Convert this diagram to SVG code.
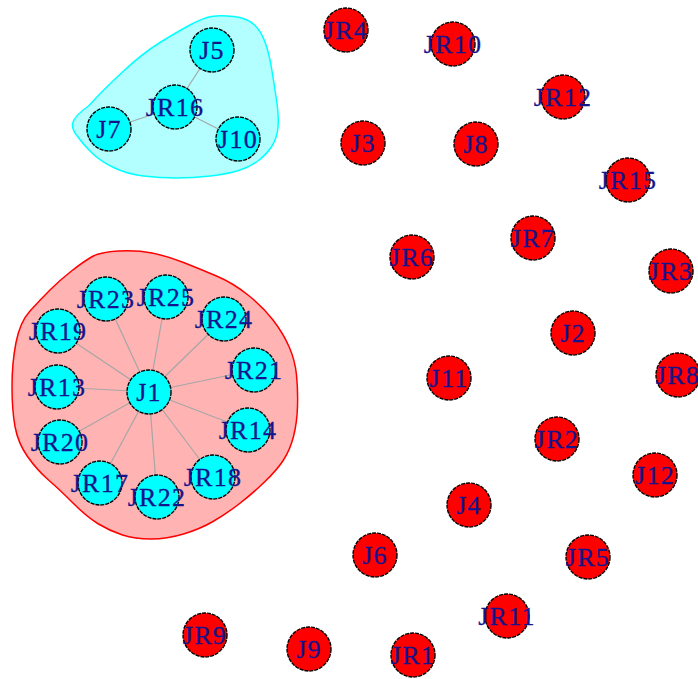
<svg xmlns="http://www.w3.org/2000/svg" width="698" height="679" viewBox="0 0 698 679">
<style>
.n circle{stroke:#000;stroke-width:1.4;stroke-dasharray:4 1}
.red circle{fill:#ff0000}
.cy circle{fill:#00ffff}
.n text{font-family:"Liberation Serif","Times New Roman",serif;font-size:26px;fill:#14148c;stroke:#14148c;stroke-width:0.3;text-anchor:middle;letter-spacing:1.3px}
#edges line{stroke:#a6a6a6;stroke-width:1.2}
</style>
<rect width="698" height="679" fill="#fff"/>
<g id="hulls">
<path id="hull-cyan" fill="#b3ffff" stroke="#00ffff" stroke-width="1.5" d="M 88.5,106 Q 103,90 123,71.5 Q 143,53 160,42.5 Q 177,32 190,25 Q 203,18 211.5,16.5 Q 220,15 233.5,16.5 Q 247,18 254,24.5 Q 261,31 265,42 Q 269,53 271.5,68 Q 274,83 276.5,100 Q 279,117 278,127.5 Q 277,138 272,146 Q 267,154 258.5,160.5 Q 250,167 238.5,170.5 Q 227,174 210,176 Q 193,178 176.5,178 Q 160,178 143.5,176 Q 127,174 113.5,167.5 Q 100,161 91.5,152.5 Q 83,144 78,137 Q 72,130 72.5,124 Q 74,116 88.5,106 Z"/>
<path id="hull-red" fill="#ffb3b3" stroke="#ff0000" stroke-width="1.5" d="M 91.5,257 Q 100,252 118.5,251 Q 137,250 152,253 Q 167,256 183.5,262.5 Q 200,269 216.5,276 Q 233,283 248,295 Q 263,307 273,320 Q 283,333 289,346.5 Q 295,360 296.5,375 Q 298,390 297.5,406.5 Q 297,423 293.5,436.5 Q 290,450 283.5,460 Q 277,470 264.5,482 Q 252,494 239,504 Q 226,514 213,521.5 Q 200,529 183.5,534 Q 167,539 151,539 Q 135,539 122.5,535 Q 110,531 98.5,524 Q 87,517 73.5,503.5 Q 60,490 48.5,480 Q 37,470 27.5,456.5 Q 18,443 15,426.5 Q 12,410 12,386.5 Q 12,363 16,342.5 Q 20,322 30,311 Q 40,300 50,290 Q 60,280 71.5,271 Q 83,262 91.5,257 Z"/>
</g>
<g id="edges">
<line x1="175" y1="107" x2="212" y2="50"/>
<line x1="175" y1="107" x2="109" y2="129"/>
<line x1="175" y1="107" x2="238" y2="139"/>
<line x1="149" y1="392" x2="106" y2="299"/>
<line x1="149" y1="392" x2="166" y2="297"/>
<line x1="149" y1="392" x2="224" y2="319"/>
<line x1="149" y1="392" x2="58" y2="331"/>
<line x1="149" y1="392" x2="254" y2="370"/>
<line x1="149" y1="392" x2="57" y2="387"/>
<line x1="149" y1="392" x2="248" y2="430"/>
<line x1="149" y1="392" x2="60" y2="442"/>
<line x1="149" y1="392" x2="213" y2="477"/>
<line x1="149" y1="392" x2="100" y2="483"/>
<line x1="149" y1="392" x2="157" y2="497"/>
</g>
<g id="nodes">
<g id="J5" class="n cy"><circle cx="212" cy="50" r="22"/><text x="212" y="59">J5</text></g>
<g id="J7" class="n cy"><circle cx="109" cy="129" r="22"/><text x="109" y="138">J7</text></g>
<g id="J10" class="n cy"><circle cx="238" cy="139" r="22"/><text x="238" y="148">J10</text></g>
<g id="JR16" class="n cy"><circle cx="175" cy="107" r="22"/><text x="175" y="116">JR16</text></g>
<g id="J1" class="n cy"><circle cx="149" cy="392" r="22"/><text x="149" y="401">J1</text></g>
<g id="JR23" class="n cy"><circle cx="106" cy="299" r="22"/><text x="106" y="308">JR23</text></g>
<g id="JR25" class="n cy"><circle cx="166" cy="297" r="22"/><text x="166" y="306">JR25</text></g>
<g id="JR24" class="n cy"><circle cx="224" cy="319" r="22"/><text x="224" y="328">JR24</text></g>
<g id="JR19" class="n cy"><circle cx="58" cy="331" r="22"/><text x="58" y="340">JR19</text></g>
<g id="JR21" class="n cy"><circle cx="254" cy="370" r="22"/><text x="254" y="379">JR21</text></g>
<g id="JR13" class="n cy"><circle cx="57" cy="387" r="22"/><text x="57" y="396">JR13</text></g>
<g id="JR14" class="n cy"><circle cx="248" cy="430" r="22"/><text x="248" y="439">JR14</text></g>
<g id="JR20" class="n cy"><circle cx="60" cy="442" r="22"/><text x="60" y="451">JR20</text></g>
<g id="JR18" class="n cy"><circle cx="213" cy="477" r="22"/><text x="213" y="486">JR18</text></g>
<g id="JR17" class="n cy"><circle cx="100" cy="483" r="22"/><text x="100" y="492">JR17</text></g>
<g id="JR22" class="n cy"><circle cx="157" cy="497" r="22"/><text x="157" y="506">JR22</text></g>
<g id="JR4" class="n red"><circle cx="346" cy="30" r="22"/><text x="346" y="39">JR4</text></g>
<g id="JR10" class="n red"><circle cx="453" cy="44" r="22"/><text x="453" y="53">JR10</text></g>
<g id="JR12" class="n red"><circle cx="563" cy="97" r="22"/><text x="563" y="106">JR12</text></g>
<g id="J3" class="n red"><circle cx="363" cy="143" r="22"/><text x="363" y="152">J3</text></g>
<g id="J8" class="n red"><circle cx="476" cy="144" r="22"/><text x="476" y="153">J8</text></g>
<g id="JR15" class="n red"><circle cx="628" cy="180" r="22"/><text x="628" y="189">JR15</text></g>
<g id="JR6" class="n red"><circle cx="412" cy="257" r="22"/><text x="412" y="266">JR6</text></g>
<g id="JR7" class="n red"><circle cx="533" cy="238" r="22"/><text x="533" y="247">JR7</text></g>
<g id="JR3" class="n red"><circle cx="671" cy="271" r="22"/><text x="671" y="280">JR3</text></g>
<g id="J2" class="n red"><circle cx="573" cy="333" r="22"/><text x="573" y="342">J2</text></g>
<g id="J11" class="n red"><circle cx="449" cy="378" r="22"/><text x="449" y="387">J11</text></g>
<g id="JR8" class="n red"><circle cx="678" cy="375" r="22"/><text x="678" y="384">JR8</text></g>
<g id="JR2" class="n red"><circle cx="557" cy="439" r="22"/><text x="557" y="448">JR2</text></g>
<g id="J12" class="n red"><circle cx="655" cy="475" r="22"/><text x="655" y="484">J12</text></g>
<g id="J4" class="n red"><circle cx="469" cy="505" r="22"/><text x="469" y="514">J4</text></g>
<g id="JR5" class="n red"><circle cx="588" cy="557" r="22"/><text x="588" y="566">JR5</text></g>
<g id="J6" class="n red"><circle cx="375" cy="555" r="22"/><text x="375" y="564">J6</text></g>
<g id="JR11" class="n red"><circle cx="507" cy="616" r="22"/><text x="507" y="625">JR11</text></g>
<g id="JR9" class="n red"><circle cx="205" cy="635" r="22"/><text x="205" y="644">JR9</text></g>
<g id="J9" class="n red"><circle cx="309" cy="649" r="22"/><text x="309" y="658">J9</text></g>
<g id="JR1" class="n red"><circle cx="413" cy="655" r="22"/><text x="413" y="664">JR1</text></g>
</g>
</svg>
